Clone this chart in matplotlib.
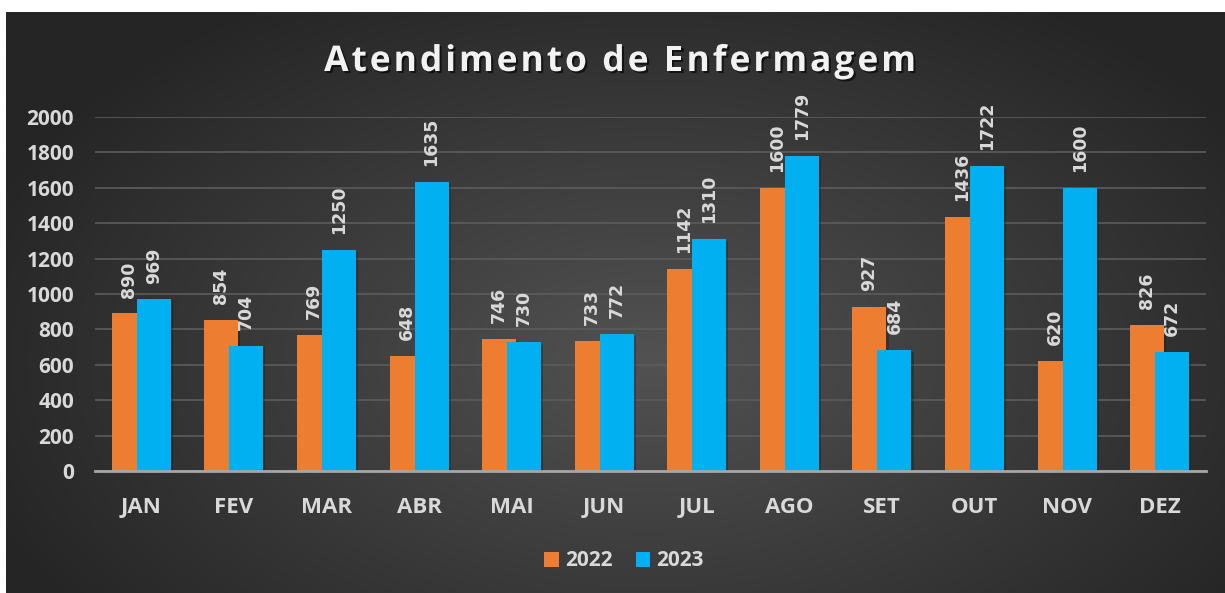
import numpy as np
import matplotlib
matplotlib.use("Agg")
import matplotlib.pyplot as plt
import matplotlib.patheffects as pe
from matplotlib.font_manager import FontProperties

months = ["JAN", "FEV", "MAR", "ABR", "MAI", "JUN", "JUL", "AGO", "SET", "OUT", "NOV", "DEZ"]
v2022 = [890, 854, 769, 648, 746, 733, 1142, 1600, 927, 1436, 620, 826]
v2023 = [969, 704, 1250, 1635, 730, 772, 1310, 1779, 684, 1722, 1600, 672]
series_names = ["2022", "2023"]
title = "Atendimento de Enfermagem"
yticks = [0, 200, 400, 600, 800, 1000, 1200, 1400, 1600, 1800, 2000]

W, H = 1225, 593
fig = plt.figure(figsize=(W / 100, H / 100), dpi=100, facecolor="white")

# background gradient panel
bx0, by0 = 6, 12
bg = fig.add_axes([bx0 / W, 0, 1 - bx0 / W, 1 - by0 / H])
bg.set_axis_off()
nx, ny = 400, 200
xs = np.linspace(bx0, W, nx)
ys = np.linspace(by0, H, ny)
X, Y = np.meshgrid(xs, ys)
cx, cy = 650, 360
r = np.sqrt(((X - cx) / 720) ** 2 + ((Y - cy) / 430) ** 2)
r = np.clip(r, 0, 1)
c_in = np.array([0x52, 0x52, 0x52]) / 255
c_out = np.array([0x25, 0x25, 0x25]) / 255
img = c_in[None, None, :] * (1 - r[..., None]) + c_out[None, None, :] * r[..., None]
bg.imshow(img, aspect="auto", extent=[0, 1, 0, 1], origin="upper")
bg.set_xlim(0, 1)
bg.set_ylim(0, 1)

txtc = "#d9d9d9"
ax = fig.add_axes([95 / W, 1 - 471 / H, (1206 - 95) / W, (471 - 117) / H])
ax.patch.set_alpha(0)
x = np.arange(len(months))
bw = 0.367
off = 0.135
shadow = [pe.SimplePatchShadow(offset=(1.5, -1.5), shadow_rgbFace="black", alpha=0.22), pe.Normal()]
b1 = ax.bar(x - off, v2022, bw, color="#ED7D31", zorder=3, label=series_names[0], path_effects=shadow)
b2 = ax.bar(x + off, v2023, bw, color="#00B0F0", zorder=4, label=series_names[1], path_effects=shadow)

lab_gap = 90
for xi, v in zip(x - off, v2022):
    ax.text(xi, v + lab_gap, str(v), rotation=90, ha="center", va="bottom", color=txtc,
            fontsize=12.5, fontweight="bold", family="DejaVu Sans", clip_on=False, zorder=6)
for xi, v in zip(x + off, v2023):
    ax.text(xi, v + lab_gap, str(v), rotation=90, ha="center", va="bottom", color=txtc,
            fontsize=12.5, fontweight="bold", family="DejaVu Sans", clip_on=False, zorder=6)

ax.set_xlim(-0.5, len(months) - 0.5)
ax.set_ylim(0, 2000)
ax.set_yticks(yticks)
ax.set_xticks(x)
ax.set_xticklabels(months)
for s in ["top", "right", "left"]:
    ax.spines[s].set_visible(False)
ax.spines["bottom"].set_color("#a6a6a6")
ax.spines["bottom"].set_linewidth(2)
ax.spines["bottom"].set_zorder(5)
ax.grid(axis="y", color="#5c5c5c", linewidth=1.2, zorder=0)
ax.set_axisbelow(True)
ax.tick_params(axis="both", length=0, colors=txtc)
ax.tick_params(axis="y", pad=15)
ax.tick_params(axis="x", pad=19)
for lab in ax.get_yticklabels():
    lab.set_family("Open Sans")
    lab.set_fontweight("bold")
    lab.set_fontsize(15)
for lab in ax.get_xticklabels():
    lab.set_family("Open Sans")
    lab.set_fontweight("bold")
    lab.set_fontsize(16)

leg = fig.legend(handles=[b1, b2], labels=series_names, loc="center",
                 bbox_to_anchor=(624 / W, 1 - 561 / H), ncol=2, frameon=False,
                 handlelength=0.7, handleheight=0.7, handletextpad=0.3, columnspacing=1.1,
                 prop=FontProperties(family="Open Sans", weight="bold", size=15))
for t in leg.get_texts():
    t.set_color(txtc)
for h in leg.legend_handles:
    h.set_path_effects([])

# title with letter spacing
fp = FontProperties(family="Open Sans", weight="bold", size=25.5)
fig.canvas.draw()
renderer = fig.canvas.get_renderer()
def tw(s):
    if not s:
        return 0.0
    w, h, d = renderer.get_text_width_height_descent(s, fp, ismath=False)
    return w
spacing = 3.0
total = tw(title) + spacing * (len(title) - 1)
xcenter = 620
x0 = xcenter - total / 2
ytitle = 1 - 62 / H
tshadow = [pe.SimplePatchShadow(offset=(1.5, -1.5), shadow_rgbFace="black", alpha=0.6), pe.Normal()]
for i, ch in enumerate(title):
    if ch == " ":
        continue
    xp = x0 + tw(title[:i]) + spacing * i
    fig.text(xp / W, ytitle, ch, fontproperties=fp, color="#f2f2f2", ha="left", va="center",
             path_effects=tshadow)

fig.savefig("out.png", dpi=100, facecolor="white")
